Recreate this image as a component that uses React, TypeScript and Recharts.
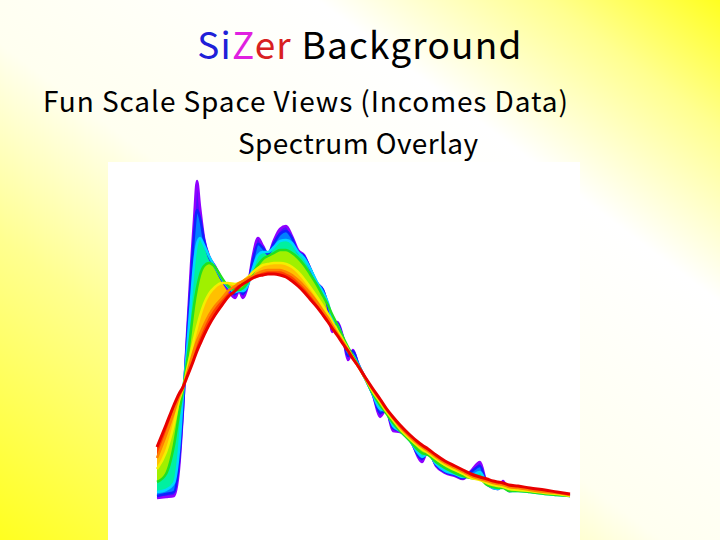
import React from 'react';
import { ComposedChart, Area, Line, XAxis, YAxis } from 'recharts';

// income grid (horizontal position) shared by every bandwidth curve
const incomes = [157, 166, 174, 179, 183, 187, 191, 194, 197, 200, 204, 209, 215, 222, 228, 235, 239, 243, 248, 253, 258, 263, 268, 274, 280, 286, 292, 298, 304, 310, 317, 323, 328, 332, 337, 343, 348, 353, 358, 365, 373, 380, 386, 393, 400, 410, 418, 422, 428, 436, 445, 455, 463, 471, 480, 487, 493, 498, 503, 509, 518, 530, 545, 557, 570];

// kernel density estimates, smallest bandwidth (violet) to largest (red)
const violet = [42, 43, 44, 71, 130, 205, 275, 320, 359, 333, 302, 284, 274, 260, 250, 242, 249, 242, 255, 285, 302, 294, 286, 300, 311, 314, 304, 290, 285, 272, 257, 250, 232, 208, 218, 203, 180, 190, 176, 162, 145, 123, 130, 109, 108, 102, 83, 78, 90, 74, 67, 64, 61, 69, 78, 56, 52, 51, 59, 49, 51, 50, 48, 47, 45];
const blue = [44, 46, 48, 78, 132, 200, 262, 305, 330, 322, 300, 283, 273, 260, 252, 246, 250, 246, 256, 280, 296, 292, 286, 297, 306, 309, 302, 288, 284, 272, 257, 250, 234, 214, 217, 202, 184, 189, 177, 162, 145, 127, 129, 112, 109, 100, 85, 81, 88, 75, 68, 65, 62, 68, 74, 56, 53, 51, 57, 49, 50, 49, 47, 46, 44];
const cyan = [48, 50, 57, 90, 145, 190, 240, 275, 296, 302, 295, 284, 273, 261, 253, 248, 249, 249, 255, 272, 285, 288, 288, 293, 299, 300, 297, 288, 282, 272, 258, 248, 237, 222, 216, 202, 188, 185, 176, 162, 145, 131, 129, 114, 109, 99, 87, 83, 86, 76, 69, 66, 63, 64, 68, 56, 52, 51, 54, 49, 49, 48, 46, 45, 44];
const green = [58, 66, 95, 126, 150, 178, 210, 234, 252, 265, 274, 277, 273, 262, 254, 250, 250, 252, 258, 267, 275, 281, 284, 287, 290, 290, 287, 282, 275, 266, 255, 244, 235, 226, 216, 203, 193, 184, 175, 162, 146, 135, 127, 117, 109, 99, 90, 87, 85, 78, 72, 67, 64, 62, 61, 55, 53, 52, 52, 49, 49, 48, 46, 45, 44];
const yellow = [71, 88, 116, 139, 152, 170, 188, 201, 213, 224, 236, 246, 253, 257, 257, 256, 257, 259, 263, 268, 272, 275, 276, 277, 277, 276, 273, 268, 261, 253, 243, 234, 226, 219, 210, 200, 191, 182, 174, 162, 148, 138, 129, 120, 111, 101, 94, 91, 87, 81, 75, 70, 66, 62, 60, 57, 55, 54, 53, 51, 50, 49, 47, 46, 44];
const orange = [82, 105, 128, 143, 153, 166, 180, 190, 199, 206, 215, 225, 234, 242, 249, 254, 257, 259, 262, 264, 267, 269, 270, 270, 270, 268, 265, 260, 254, 247, 238, 229, 222, 215, 207, 198, 190, 182, 174, 163, 150, 140, 131, 122, 113, 103, 96, 93, 89, 83, 77, 72, 68, 64, 61, 59, 57, 56, 55, 53, 52, 50, 48, 47, 45];
const red = [93, 115, 135, 146, 153, 163, 173, 181, 189, 196, 205, 215, 225, 235, 243, 249, 253, 256, 259, 262, 264, 265, 266, 266, 265, 263, 259, 254, 248, 241, 233, 225, 218, 212, 205, 196, 189, 181, 174, 163, 151, 141, 132, 123, 115, 105, 98, 95, 91, 85, 79, 74, 70, 66, 63, 61, 59, 58, 57, 55, 54, 52, 50, 48, 46];

const curves = [violet, blue, cyan, green, yellow, orange, red];
const lineColors = ['#9000ff', '#1020ff', '#00d8ff', '#20e020', '#f4ee00', '#ff8000', '#e80000'];
const bandColors = ['#5010ff', '#0080ff', '#00f0a0', '#a0f000', '#ffc000', '#ff4000'];

const rows = incomes.map((x, i) => {
  const row: any = { x };
  curves.forEach((c, k) => {
    row['c' + k] = c[i];
    if (k < curves.length - 1) row['b' + k] = [c[i], curves[k + 1][i]];
  });
  return row;
});

export default function App() {
  return (
    <div
      style={{
        position: 'absolute',
        left: 0,
        top: 0,
        width: 720,
        height: 540,
        overflow: 'hidden',
        background:
          'linear-gradient(to top right, #ffff20 0%, #ffff90 28%, #fffff0 46%, #ffffff 72%, #ffff90 88%, #ffff20 100%)',
        fontFamily: '"Noto Sans CJK JP", "DejaVu Sans", sans-serif',
        color: '#000',
      }}
    >
      <div style={{ position: 'absolute', left: 0, top: 25, width: 720, textAlign: 'center', fontSize: 37, lineHeight: '37px', letterSpacing: 1.2, whiteSpace: 'nowrap' }}>
        <span style={{ color: '#2020d8' }}>Si</span>
        <span style={{ color: '#e020e0' }}>Z</span>
        <span style={{ color: '#d82020' }}>er</span> Background
      </div>
      <div style={{ position: 'absolute', left: 43, top: 86, fontSize: 28, lineHeight: '28px', letterSpacing: 0.9, whiteSpace: 'nowrap' }}>
        Fun Scale Space Views (Incomes Data)
      </div>
      <div style={{ position: 'absolute', left: 238, top: 128, fontSize: 28, lineHeight: '28px', letterSpacing: 0.4, whiteSpace: 'nowrap' }}>
        Spectrum Overlay
      </div>
      <div style={{ position: 'absolute', left: 108, top: 162, width: 472, height: 378, background: '#ffffff' }}>
        <ComposedChart width={472} height={378} data={rows} margin={{ top: 0, right: 0, bottom: 0, left: 0 }}>
          <XAxis dataKey="x" type="number" domain={[108, 580]} hide />
          <YAxis type="number" domain={[0, 378]} hide allowDataOverflow />
          {bandColors.map((c, k) => (
            <Area
              key={'b' + k}
              dataKey={'b' + k}
              type="monotone"
              fill={c}
              fillOpacity={1}
              stroke="none"
              isAnimationActive={false}
            />
          ))}
          {lineColors.map((c, k) => (
            <Line
              key={'c' + k}
              dataKey={'c' + k}
              type="monotone"
              stroke={c}
              strokeWidth={k === 6 ? 3 : 2.5}
              dot={false}
              isAnimationActive={false}
            />
          ))}
        </ComposedChart>
      </div>
    </div>
  );
}
